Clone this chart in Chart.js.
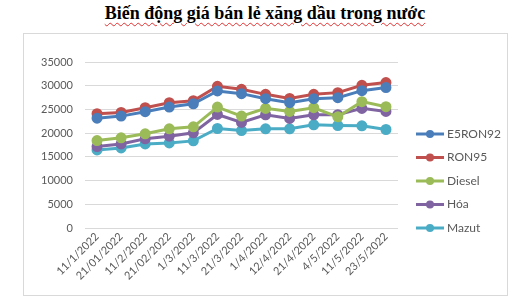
<!DOCTYPE html>
<html>
<head>
<meta charset="utf-8">
<script src="https://cdn.jsdelivr.net/npm/chart.js@4.4.0/dist/chart.umd.min.js"></script>
<style>
    body { margin: 0; background: #fff; width: 521px; height: 308px; position: relative; overflow: hidden; }
    #title {
        position: absolute; left: 0; top: 3px; width: 530px; text-align: center;
        font-family: "Liberation Serif", "Times New Roman", serif; font-weight: bold; font-size: 18px; color: #000;
        text-decoration: underline wavy #e03030; text-decoration-thickness: 1px; text-underline-offset: 3px;
    }
    #box { position: absolute; left: 23px; top: 33px; width: 483px; height: 261px; border: 1px solid #d9d9d9; }
    canvas { display: block; }
</style>
</head>
<body>
<div id="title">Biến động giá bán lẻ xăng dầu trong nước</div>
<div id="box"><canvas id="priceChart" width="483" height="261"></canvas></div>
<script>
// Price data (VND / litre)
const dates = ['11/1/2022', '21/01/2022', '11/2/2022', '21/02/2022', '1/3/2022', '11/3/2022', '21/3/2022',
    '1/4/2022', '12/4/2022', '21/4/2022', '4/5/2022', '11/5/2022', '23/5/2022'];
const e5ron92 = [23150, 23590, 24520, 25490, 26200, 28890, 28330, 27270, 26420, 27270, 27480, 28960, 29600];
const ron95   = [24090, 24370, 25360, 26420, 26840, 29880, 29240, 28180, 27330, 28180, 28540, 30090, 30660];
const diesel  = [18440, 19010, 19860, 20910, 21330, 25490, 23590, 25220, 24580, 25360, 23450, 26640, 25570];
const hoa     = [17160, 17730, 18800, 19350, 20060, 23940, 22250, 23880, 23100, 23880, 23880, 25220, 24580];
const mazut   = [16460, 16880, 17730, 17940, 18370, 20980, 20550, 20910, 20910, 21760, 21610, 21550, 20770];
const yTicks  = [0, 5000, 10000, 15000, 20000, 25000, 30000, 35000];

const fontFamily = 'Lato, "Open Sans", sans-serif';

function series(label, data, color) {
    return {
        label: label,
        data: data,
        borderColor: color,
        backgroundColor: color,
        borderWidth: 3,
        pointRadius: 4,
        pointHoverRadius: 4,
        tension: 0
    };
}

// Excel-style legend: line with marker, stacked on the right
const sideLegend = {
    id: 'sideLegend',
    afterDraw(chart) {
        const ctx = chart.ctx;
        const x0 = 392, y0 = 100, step = 23.5;
        ctx.save();
        ctx.font = '12px ' + fontFamily;
        ctx.textBaseline = 'middle';
        chart.data.datasets.forEach((ds, i) => {
            const y = y0 + i * step;
            ctx.strokeStyle = ds.borderColor;
            ctx.lineWidth = 3;
            ctx.beginPath();
            ctx.moveTo(x0, y);
            ctx.lineTo(x0 + 28, y);
            ctx.stroke();
            ctx.fillStyle = ds.borderColor;
            ctx.beginPath();
            ctx.arc(x0 + 14, y, 4, 0, Math.PI * 2);
            ctx.fill();
            ctx.fillStyle = '#595959';
            ctx.fillText(ds.label, x0 + 31, y);
        });
        ctx.restore();
    }
};

const ctx = document.getElementById('priceChart').getContext('2d');
new Chart(ctx, {
    type: 'line',
    data: {
        labels: dates,
        datasets: [
            series('E5RON92', e5ron92, '#4a7ebb'),
            series('RON95', ron95, '#c0504d'),
            series('Diesel', diesel, '#9bbb59'),
            series('Hóa', hoa, '#8064a2'),
            series('Mazut', mazut, '#4bacc6')
        ]
    },
    options: {
        responsive: false,
        animation: false,
        layout: { padding: { left: 0, top: 28, right: 109, bottom: 0 } },
        plugins: {
            legend: { display: false },
            tooltip: { enabled: false }
        },
        scales: {
            x: {
                offset: true,
                grid: { display: false, drawTicks: false },
                border: { display: false },
                ticks: {
                    color: '#595959',
                    font: { family: fontFamily, size: 11 },
                    maxRotation: 45,
                    minRotation: 45,
                    padding: 2,
                    autoSkip: false
                },
                afterFit(scale) { scale.height = 67; }
            },
            y: {
                min: 0,
                max: 35000,
                afterBuildTicks(scale) { scale.ticks = yTicks.map(v => ({ value: v })); },
                grid: { color: '#d9d9d9', drawTicks: false },
                border: { display: false },
                ticks: {
                    color: '#595959',
                    font: { family: fontFamily, size: 11 },
                    padding: 12,
                    callback: value => String(value)
                },
                afterFit(scale) { scale.width = 61; }
            }
        }
    },
    plugins: [sideLegend]
});
</script>
</body>
</html>
